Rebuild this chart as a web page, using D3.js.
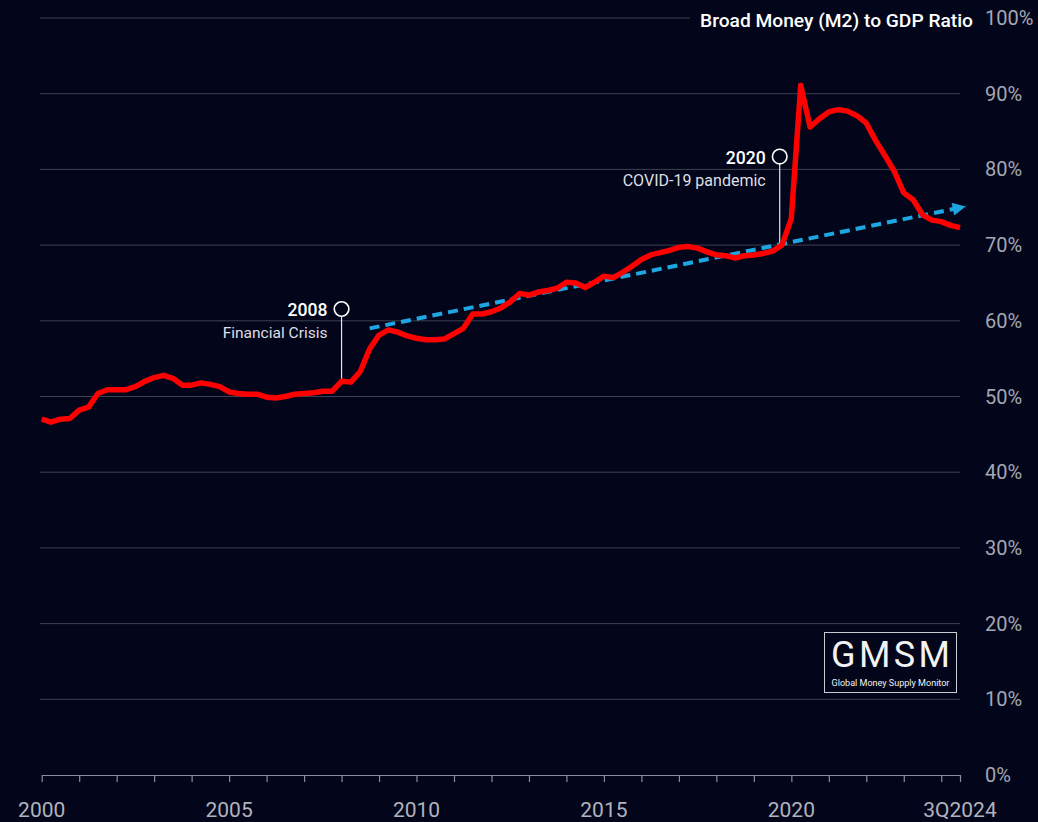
<!DOCTYPE html>
<html><head><meta charset="utf-8">
<script src="https://cdn.jsdelivr.net/npm/d3@7"></script>
<style>
html,body{margin:0;padding:0;background:#03061a;}
svg{display:block;font-family:Roboto,"Noto Sans",sans-serif;}
</style>
</head><body>
<svg id="chart" width="1038" height="822"></svg>
<script>
// ---- data (quarterly, 1Q2000 .. 3Q2024) ----
const startYear = 2000;
const ratioValues = [
  47.0, 46.6, 47.0, 47.1, 48.2, 48.6, 50.4, 50.9, 50.9, 50.9,
  51.3, 52.0, 52.5, 52.8, 52.4, 51.5, 51.5, 51.8, 51.6, 51.3,
  50.6, 50.4, 50.3, 50.3, 49.9, 49.8, 50.0, 50.3, 50.4, 50.5,
  50.7, 50.7, 52.0, 51.9, 53.3, 56.3, 58.1, 58.8, 58.5, 58.0,
  57.7, 57.5, 57.5, 57.6, 58.3, 59.0, 60.9, 60.9, 61.2, 61.7,
  62.5, 63.6, 63.4, 63.8, 64.0, 64.3, 65.1, 65.0, 64.4, 65.1,
  65.9, 65.7, 66.4, 67.2, 68.1, 68.7, 69.0, 69.3, 69.7, 69.8,
  69.6, 69.1, 68.7, 68.6, 68.3, 68.6, 68.7, 68.9, 69.2, 70.0,
  73.5, 91.1, 85.6, 86.7, 87.6, 87.9, 87.7, 87.1, 86.1, 83.8,
  81.8, 79.7, 76.9, 76.0, 74.0, 73.3, 73.1, 72.6, 72.3
];
const yTickValues = [0, 10, 20, 30, 40, 50, 60, 70, 80, 90, 100];
const xLabelYears = [2000, 2005, 2010, 2015, 2020, 2024.5];
const xLabels = ["2000", "2005", "2010", "2015", "2020", "3Q2024"];
const trendYears = [2008.75, 2024.65];
const trendValues = [59.0, 75.1];
const annoYears = [2008.0, 2019.69];
const annoCircleValues = [61.56, 81.7];
const annoTitles = ["2008", "2020"];
const annoTexts = ["Financial Crisis", "COVID-19 pandemic"];
const chartTitle = "Broad Money (M2) to GDP Ratio";
const logoTitle = "GMSM";
const logoSub = "Global Money Supply Monitor";

// ---- setup ----
const bg = "#03061a";
const svg = d3.select("#chart");
svg.append("rect").attr("width", 1038).attr("height", 822).attr("fill", bg);

const data = ratioValues.map((v, i) => ({ t: startYear + i / 4, v }));
const x = d3.scaleLinear().domain([2000, 2024.5]).range([41.7, 960]);
const y = d3.scaleLinear().domain([0, 100]).range([775, 18]);

function fit(sel, w) {
  const n = sel.node();
  const cur = parseFloat(sel.attr("font-size"));
  const len = n.getComputedTextLength();
  sel.attr("font-size", (cur * w / len).toFixed(2));
  return sel;
}

// title
const title = svg.append("text")
  .attr("x", 973).attr("y", 26.5)
  .attr("text-anchor", "end")
  .attr("font-size", 21).attr("font-weight", 500)
  .attr("fill", "#ffffff")
  .text(chartTitle);
fit(title, 273);
const titleLeft = title.node().getBBox().x;

// gridlines
svg.append("g").selectAll("line")
  .data(yTickValues.filter(d => d > 0))
  .join("line")
  .attr("x1", 40)
  .attr("x2", d => d === 100 ? titleLeft - 10 : 960)
  .attr("y1", d => y(d)).attr("y2", d => y(d))
  .attr("stroke", "#3d4052").attr("stroke-width", 1);

// y labels on right
svg.append("g").selectAll("text")
  .data(yTickValues)
  .join("text")
  .attr("x", 985)
  .attr("y", d => y(d) + 7)
  .attr("font-size", 20)
  .attr("fill", "#a4a7b2")
  .text(d => d + "%");

// x axis
const xTickVals = d3.range(2000, 2025, 1).concat([2024.5]);
const xAxis = d3.axisBottom(x)
  .tickValues(xTickVals)
  .tickSize(7)
  .tickSizeOuter(0)
  .tickFormat("");
const gx = svg.append("g").attr("transform", `translate(0,${y(0)})`).call(xAxis);
gx.select(".domain").attr("stroke", "#8b8e9a").attr("stroke-width", 1.2);
gx.selectAll(".tick line").attr("stroke", "#8b8e9a").attr("stroke-width", 1.2);

svg.append("g").selectAll("text")
  .data(xLabelYears)
  .join("text")
  .attr("x", d => x(d))
  .attr("y", 817)
  .attr("text-anchor", "middle")
  .attr("font-size", 21)
  .attr("fill", "#b0b3bd")
  .text((d, i) => xLabels[i]);

// logo
const logo = svg.append("g");
logo.append("rect")
  .attr("x", 824.5).attr("y", 632.5).attr("width", 132).attr("height", 60)
  .attr("fill", bg).attr("stroke", "#c9cbd2").attr("stroke-width", 1);
logo.append("text")
  .attr("x", 831).attr("y", 667).attr("text-anchor", "start")
  .attr("font-size", 36).attr("font-weight", 400)
  .attr("textLength", 119).attr("lengthAdjust", "spacing")
  .attr("fill", "#f2f2f2").text(logoTitle);
const ls = logo.append("text")
  .attr("x", 890.5).attr("y", 686).attr("text-anchor", "middle")
  .attr("font-size", 10.5).attr("fill", "#f2f2f2").text(logoSub);
fit(ls, 118);

// annotations
const valueAt = t => {
  const i = (t - startYear) * 4;
  const i0 = Math.floor(i), f = i - i0;
  return ratioValues[i0] * (1 - f) + ratioValues[Math.min(i0 + 1, ratioValues.length - 1)] * f;
};
annoYears.forEach((t, k) => {
  const cx = x(t), cy = y(annoCircleValues[k]);
  svg.append("line")
    .attr("x1", cx).attr("x2", cx)
    .attr("y1", cy + 7.5).attr("y2", y(valueAt(t)))
    .attr("stroke", "#e6e6e6").attr("stroke-width", 1.2);
  svg.append("circle")
    .attr("cx", cx).attr("cy", cy).attr("r", 7.3)
    .attr("fill", bg).attr("stroke", "#ffffff").attr("stroke-width", 1.6);
  const a = svg.append("text")
    .attr("x", cx - 14).attr("y", cy + 7)
    .attr("text-anchor", "end").attr("font-size", 17.5).attr("font-weight", 500)
    .attr("fill", "#ffffff").text(annoTitles[k]);
  fit(a, 40);
  const b = svg.append("text")
    .attr("x", cx - 14).attr("y", cy + 29.5)
    .attr("text-anchor", "end").attr("font-size", 16)
    .attr("fill", "#dedfe4").text(annoTexts[k]);
  fit(b, k === 0 ? 105 : 143);
});

// trend line with arrow
svg.append("defs").append("marker")
  .attr("id", "arrow")
  .attr("viewBox", "0 0 10 10")
  .attr("refX", 10).attr("refY", 5)
  .attr("markerUnits", "userSpaceOnUse")
  .attr("markerWidth", 17).attr("markerHeight", 13)
  .attr("orient", "auto")
  .append("path").attr("d", "M0,0 L10,5 L0,10 Z").attr("fill", "#1ea6e3");

const trendData = trendYears.map((t, i) => ({ t, v: trendValues[i] }));
const lineGen = d3.line().x(d => x(d.t)).y(d => y(d.v));
svg.append("path")
  .datum(trendData)
  .attr("d", lineGen)
  .attr("fill", "none")
  .attr("stroke", "#1ea6e3")
  .attr("stroke-width", 4)
  .attr("stroke-dasharray", "10,6")
  .attr("marker-end", "url(#arrow)");

// main series
svg.append("path")
  .datum(data)
  .attr("d", lineGen)
  .attr("fill", "none")
  .attr("stroke", "#ff0000")
  .attr("stroke-width", 5.5)
  .attr("stroke-linejoin", "round")
  .attr("stroke-linecap", "butt");
</script>
</body></html>
